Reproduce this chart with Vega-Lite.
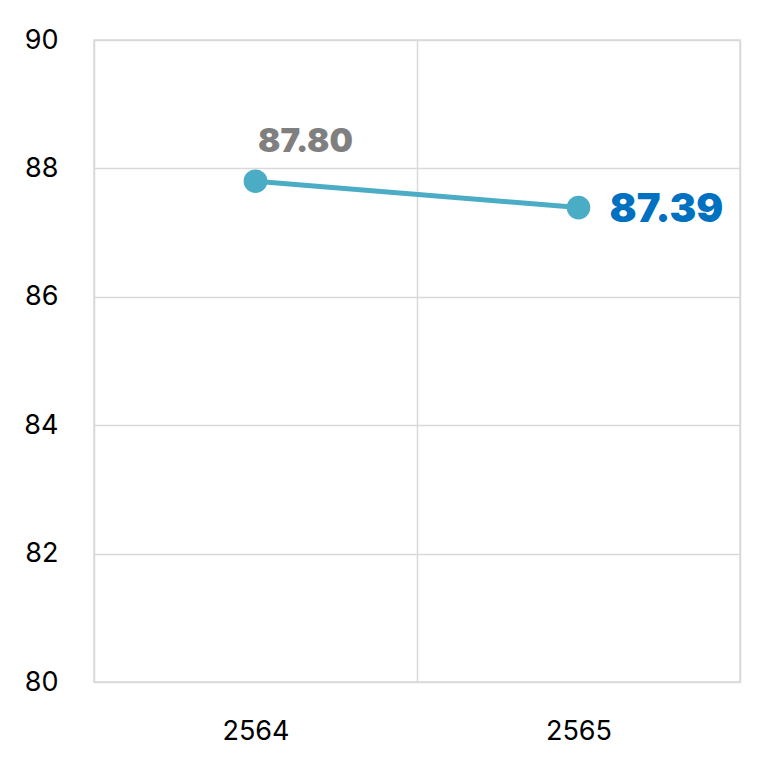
{
  "$schema": "https://vega.github.io/schema/vega-lite/v6.json",
  "autosize": {"type": "none"},
  "width": 646,
  "height": 642,
  "padding": {"left": 94, "top": 40, "right": 30, "bottom": 86},
  "background": "white",
  "config": {
    "view": {"stroke": "#d9d9d9", "strokeWidth": 1.5},
    "font": "Inter"
  },
  "data": {
    "values": [
      {"year": "2564", "value": 87.80, "label": "87.80"},
      {"year": "2565", "value": 87.39, "label": "87.39"}
    ]
  },
  "encoding": {
    "x": {
      "field": "year", "type": "ordinal",
      "scale": {"paddingInner": 0, "paddingOuter": 0},
      "axis": {
        "title": null, "labelAngle": 0, "tickBand": "extent",
        "labelFontSize": 27, "labelColor": "#000000", "labelFont": "Inter",
        "labelPadding": 36, "ticks": false, "domain": false,
        "grid": true, "gridColor": "#d9d9d9", "gridWidth": 1.5
      }
    },
    "y": {
      "field": "value", "type": "quantitative",
      "scale": {"domain": [80, 90], "nice": false, "zero": false},
      "axis": {
        "title": null, "values": [80, 82, 84, 86, 88, 90],
        "labelFontSize": 27, "labelColor": "#000000", "labelFont": "Inter",
        "labelPadding": 36, "ticks": false, "domain": false,
        "gridColor": "#d9d9d9", "gridWidth": 1.5
      }
    }
  },
  "layer": [
    {
      "mark": {"type": "line", "color": "#4bacc6", "strokeWidth": 5}
    },
    {
      "mark": {"type": "point", "filled": true, "color": "#4bacc6", "size": 560, "opacity": 1}
    },
    {
      "transform": [{"filter": "datum.year == '2564'"}],
      "mark": {"type": "text", "color": "#7f7f7f", "fontSize": 33, "fontWeight": 900, "font": "Inter", "dx": 50, "dy": -29, "baseline": "alphabetic", "align": "center"},
      "encoding": {"text": {"field": "label"}}
    },
    {
      "transform": [{"filter": "datum.year == '2565'"}],
      "mark": {"type": "text", "color": "#0070c0", "fontSize": 40, "fontWeight": 900, "font": "Inter", "dx": 31, "dy": 2, "baseline": "middle", "align": "left"},
      "encoding": {"text": {"field": "label"}}
    }
  ]
}
